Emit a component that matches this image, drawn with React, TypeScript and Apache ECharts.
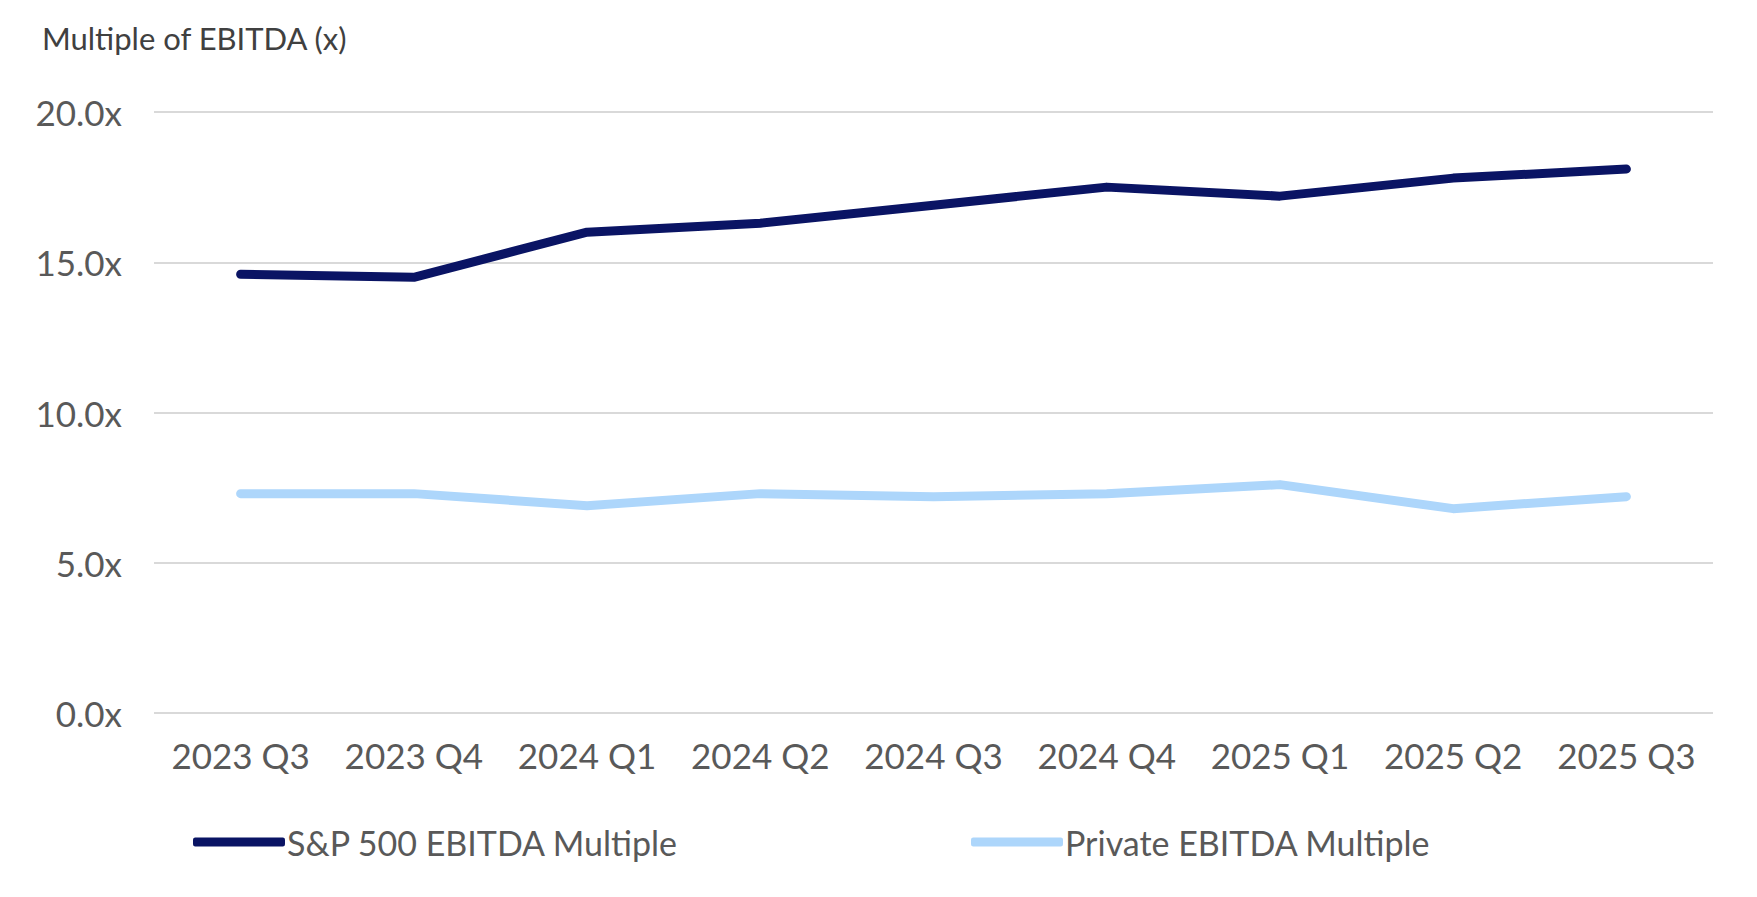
import React, { useEffect, useRef } from "react";
import * as echarts from "echarts";

const categories = ["2023 Q3", "2023 Q4", "2024 Q1", "2024 Q2", "2024 Q3", "2024 Q4", "2025 Q1", "2025 Q2", "2025 Q3"];
const spValues = [14.6, 14.5, 16.0, 16.3, 16.9, 17.5, 17.2, 17.8, 18.1];
const privateValues = [7.3, 7.3, 6.9, 7.3, 7.2, 7.3, 7.6, 6.8, 7.2];
const seriesNames = ["S&P 500 EBITDA Multiple", "Private EBITDA Multiple"];
const yTitle = "Multiple of EBITDA (x)";

const FONT = "Lato, 'Open Sans', sans-serif";

export default function App() {
  const ref = useRef<HTMLDivElement>(null);
  useEffect(() => {
    document.body.style.margin = "0";
    if (!ref.current) return;
    const chart = echarts.init(ref.current, null, { renderer: "svg" });
    const legendText = { fontSize: 34, color: "#595959", fontFamily: FONT, padding: [0, 0, 0, -3] };
    chart.setOption({
      animation: false,
      backgroundColor: "#ffffff",
      textStyle: { fontFamily: FONT },
      title: {
        text: yTitle,
        left: 37,
        top: 17,
        textStyle: { fontSize: 31, fontWeight: "normal", color: "#404040", fontFamily: FONT },
      },
      grid: { left: 154, right: 44, top: 112, bottom: 184, containLabel: false },
      legend: [
        {
          data: [seriesNames[0]],
          left: 188,
          top: 820,
          icon: "roundRect",
          itemWidth: 92,
          itemHeight: 9,
          textStyle: legendText,
        },
        {
          data: [seriesNames[1]],
          left: 966,
          top: 820,
          icon: "roundRect",
          itemWidth: 92,
          itemHeight: 9,
          textStyle: legendText,
        },
      ],
      xAxis: {
        type: "category",
        data: categories,
        boundaryGap: true,
        axisLine: { show: false },
        axisTick: { show: false },
        axisLabel: { fontSize: 35, color: "#595959", margin: 24, fontFamily: FONT, interval: 0, hideOverlap: false },
      },
      yAxis: {
        type: "value",
        min: 0,
        max: 20,
        interval: 5,
        axisLine: { show: false },
        axisTick: { show: false },
        axisLabel: {
          fontSize: 35,
          color: "#595959",
          margin: 32,
          fontFamily: FONT,
          formatter: (v: number) => v.toFixed(1) + "x",
        },
        splitLine: { lineStyle: { color: "#D9D9D9", width: 2 } },
      },
      series: [
        {
          name: seriesNames[0],
          type: "line",
          data: spValues,
          symbol: "none",
          color: "#0A1464",
          lineStyle: { width: 9, color: "#0A1464", cap: "round", join: "round" },
        },
        {
          name: seriesNames[1],
          type: "line",
          data: privateValues,
          symbol: "none",
          color: "#ADD6FB",
          lineStyle: { width: 9, color: "#ADD6FB", cap: "round", join: "round" },
        },
      ],
    });
    return () => chart.dispose();
  }, []);
  return <div ref={ref} style={{ width: 1757, height: 897 }} />;
}
